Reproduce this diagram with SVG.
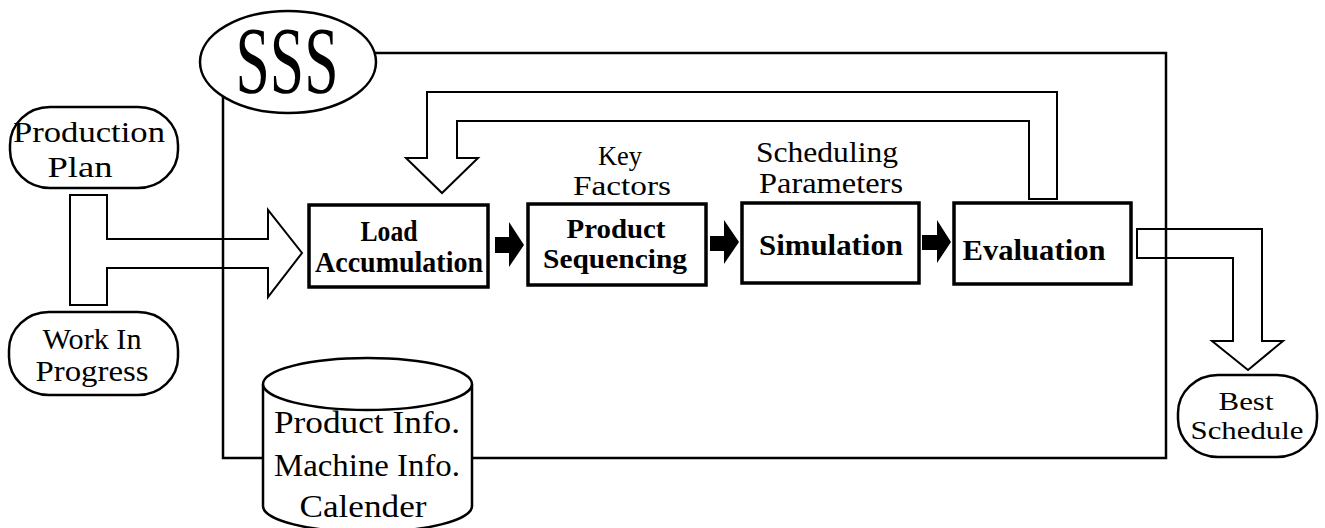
<svg xmlns="http://www.w3.org/2000/svg" width="1325" height="528" viewBox="0 0 1325 528">
  <style>
    .bg { fill: #ffffff; }
    .frame { fill: none; stroke: #000; stroke-width: 2.5; }
    .pill { fill: #ffffff; stroke: #000; stroke-width: 2.5; }
    .box { fill: #ffffff; stroke: #000; stroke-width: 3.5; }
    .hollow { fill: none; stroke: #000; stroke-width: 2; stroke-linejoin: miter; }
    .solid { fill: #000; stroke: none; }
    .t { font-family: "Liberation Serif", "Times New Roman", serif; font-size: 30px; fill: #000; text-anchor: middle; }
    .b { font-family: "Liberation Serif", "Times New Roman", serif; font-size: 29px; font-weight: bold; fill: #000; text-anchor: middle; }
    .db { font-family: "Liberation Serif", "Times New Roman", serif; font-size: 32px; fill: #000; text-anchor: middle; }
  </style>

  <rect class="bg" x="0" y="0" width="1325" height="528"/>

  <!-- hollow block arrows and small solid arrows -->
  <g id="connectors">
    <!-- inputs merging into Load Accumulation -->
    <path class="hollow" d="M70,195 L107,195 L107,239 L268,239 L268,210 L302,253 L268,297 L268,268 L107,268 L107,305 L70,305 Z"/>
    <!-- feedback loop from Evaluation back to Load Accumulation -->
    <path class="hollow" d="M1029,199 L1057,199 L1057,92 L427,92 L427,158 L406,158 L442,193 L478,158 L457,158 L457,121 L1029,121 Z"/>
    <!-- output to Best Schedule -->
    <path class="hollow" d="M1137,229 L1262,229 L1262,341 L1283,341 L1248,370 L1212,341 L1233,341 L1233,258 L1137,258 Z"/>
    <!-- solid step arrows -->
    <path class="solid" d="M495,237 L509,237 L509,222 L524,245 L509,267 L509,253 L495,253 Z"/>
    <path class="solid" d="M710,236 L724,236 L724,220 L739,242 L724,264 L724,251 L710,251 Z"/>
    <path class="solid" d="M922,235 L937,235 L937,220 L951,242 L937,263 L937,250 L922,250 Z"/>
  </g>

  <!-- system boundary -->
  <g id="sss-frame">
    <rect class="frame" x="223" y="53" width="943" height="405"/>
  </g>

  <g id="sss-label">
    <ellipse class="pill" cx="288" cy="62" rx="88" ry="51"/>
    <text class="t" x="287" y="93" style="font-size:95px" textLength="103" lengthAdjust="spacingAndGlyphs">SSS</text>
  </g>

  <g id="production-plan">
    <rect class="pill" x="10" y="107" width="168" height="81" rx="40" ry="38"/>
    <text class="t" x="89" y="142" textLength="152" lengthAdjust="spacingAndGlyphs">Production</text>
    <text class="t" x="80" y="177" textLength="65" lengthAdjust="spacingAndGlyphs">Plan</text>
  </g>

  <g id="work-in-progress">
    <rect class="pill" x="9" y="312" width="169" height="83" rx="40" ry="38"/>
    <text class="t" x="92" y="349" textLength="99" lengthAdjust="spacingAndGlyphs">Work In</text>
    <text class="t" x="92" y="381" textLength="113" lengthAdjust="spacingAndGlyphs">Progress</text>
  </g>

  <g id="load-accumulation">
    <rect class="box" x="309" y="205" width="179" height="82"/>
    <text class="b" x="389" y="241" textLength="57" lengthAdjust="spacingAndGlyphs">Load</text>
    <text class="b" x="399" y="272" textLength="168" lengthAdjust="spacingAndGlyphs">Accumulation</text>
  </g>

  <g id="key-factors">
    <text class="t" x="620" y="165" style="font-size:27px" textLength="44" lengthAdjust="spacingAndGlyphs">Key</text>
    <text class="t" x="622" y="195" style="font-size:27px" textLength="98" lengthAdjust="spacingAndGlyphs">Factors</text>
  </g>

  <g id="product-sequencing">
    <rect class="box" x="528" y="204" width="178" height="81"/>
    <text class="b" x="616" y="238" style="font-size:27px" textLength="99" lengthAdjust="spacingAndGlyphs">Product</text>
    <text class="b" x="615" y="268" style="font-size:27px" textLength="144" lengthAdjust="spacingAndGlyphs">Sequencing</text>
  </g>

  <g id="scheduling-parameters">
    <text class="t" x="827" y="162" textLength="142" lengthAdjust="spacingAndGlyphs">Scheduling</text>
    <text class="t" x="831" y="193" textLength="144" lengthAdjust="spacingAndGlyphs">Parameters</text>
  </g>

  <g id="simulation">
    <rect class="box" x="742" y="203" width="177" height="80"/>
    <text class="b" x="831" y="255" textLength="144" lengthAdjust="spacingAndGlyphs">Simulation</text>
  </g>

  <g id="evaluation">
    <rect class="box" x="954" y="203" width="177" height="81"/>
    <text class="b" x="1034" y="260" textLength="143" lengthAdjust="spacingAndGlyphs">Evaluation</text>
  </g>

  <g id="best-schedule">
    <rect class="pill" x="1178" y="375" width="139" height="82" rx="40" ry="38"/>
    <text class="t" x="1246" y="410" style="font-size:26px" textLength="55" lengthAdjust="spacingAndGlyphs">Best</text>
    <text class="t" x="1247" y="439" style="font-size:26px" textLength="113" lengthAdjust="spacingAndGlyphs">Schedule</text>
  </g>

  <g id="database">
    <path class="pill" d="M263,384 L263,506 A104.5,26 0 0 0 472,506 L472,384 A104.5,26 0 0 0 263,384 Z"/>
    <path class="pill" d="M263,384 A104.5,26 0 0 0 472,384"/>
    <text class="db" x="367" y="433" textLength="186" lengthAdjust="spacingAndGlyphs">Product Info.</text>
    <text class="db" x="367" y="476" textLength="186" lengthAdjust="spacingAndGlyphs">Machine Info.</text>
    <text class="db" x="363" y="517" textLength="127" lengthAdjust="spacingAndGlyphs">Calender</text>
  </g>
</svg>
